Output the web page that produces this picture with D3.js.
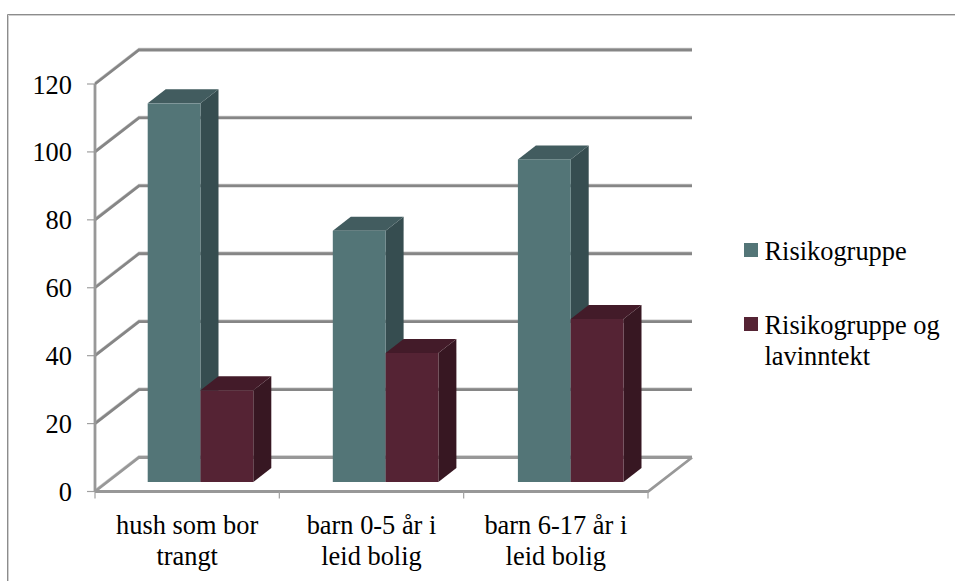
<!DOCTYPE html>
<html><head><meta charset="utf-8">
<script src="https://cdn.jsdelivr.net/npm/d3@7"></script>
<style>html,body{margin:0;padding:0;background:#fff}svg{display:block}text{font-family:"Liberation Serif",serif;fill:#000}</style>
</head><body><svg id="c" width="955" height="581"></svg>
<script>
const categories=[["hush som bor","trangt"],["barn 0-5 år i","leid bolig"],["barn 6-17 år i","leid bolig"]];
const seriesNames=[["Risikogruppe"],["Risikogruppe og","lavinntekt"]];
const risikogruppe=[111.5,74,95];
const lavinntekt=[27,38,48];
const tickValues=[0,20,40,60,80,100,120];
const frontColors=["#537577","#552334"];
const sideColors=["#364d50","#371722"];
const topColors=["#425c5f","#431b29"];
const fs=26.4;

const svg=d3.select("#c");
svg.append("path").attr("d","M8.5,581V15.5H955").attr("fill","none").attr("stroke","#d0d0d0");
svg.append("path").attr("d","M7.5,581V14.5H955").attr("fill","none").attr("stroke","#8c8c8c");

const depth={dx:44,dy:-34}, barDepth={dx:18,dy:-14};
const y=d3.scaleLinear().domain([0,120]).range([491.5,84]);
const x0=d3.scaleBand().domain([0,1,2]).range([95,648]);
const barX=d3.scaleBand().domain([0,1,2]).range([94.7,650]);
const x1=d3.scaleBand().domain([0,1]).range([0,105.6]);
const gc="#868686", ac="#989898";
const line=(pts,c=gc)=>{
  const s=pts.map(p=>p.join(",")).join(" ");
  svg.append("polyline").attr("points",pts.map(p=>[p[0],p[1]-1.2].join(",")).join(" ")).attr("fill","none").attr("stroke","#c9c9c9").attr("stroke-width",2);
  svg.append("polyline").attr("points",s).attr("fill","none").attr("stroke",c).attr("stroke-width",2.8);
};
const R=x0.range()[1];

tickValues.forEach(t=>{
  const yy=y(t);
  line([[95,yy],[95+depth.dx,yy+depth.dy],[R+depth.dx,yy+depth.dy]],t===0?ac:gc);
  svg.append("line").attr("x1",87).attr("x2",95).attr("y1",yy).attr("y2",yy).attr("stroke","#a0a0a0").attr("stroke-width",1.2);
  svg.append("text").attr("x",72).attr("y",yy+9.5).attr("text-anchor","end").attr("font-size",fs).text(t);
});
svg.append("line").attr("x1",95).attr("x2",95).attr("y1",y(0)).attr("y2",y(120)).attr("stroke",ac).attr("stroke-width",2.8);
svg.append("polyline").attr("points",[[95,y(0)],[R,y(0)],[R+depth.dx,y(0)+depth.dy]].map(p=>p.join(",")).join(" ")).attr("fill","none").attr("stroke",ac).attr("stroke-width",2.8);
[0,1,2,3].forEach(i=>{
  const xx=i<3?x0(i):R;
  svg.append("line").attr("x1",xx).attr("x2",xx).attr("y1",y(0)).attr("y2",y(0)+7).attr("stroke","#a0a0a0").attr("stroke-width",1.2);
});

const base=y(0)-9.5;
const h=v=>y(0)-y(v);
const pad=53;
[risikogruppe,lavinntekt].forEach((vals,s)=>{
  vals.forEach((v,i)=>{
    const xl=barX(i)+pad+x1(s), xr=xl+x1.bandwidth(), yt=base-h(v);
    const d=barDepth;
    svg.append("path").attr("d",`M${xr},${yt}L${xr+d.dx},${yt+d.dy}V${base+d.dy}L${xr},${base}Z`).attr("fill",sideColors[s]);
    svg.append("path").attr("d",`M${xl},${yt}L${xl+d.dx},${yt+d.dy}H${xr+d.dx}L${xr},${yt}Z`).attr("fill",topColors[s]);
    svg.append("rect").attr("x",xl).attr("y",yt).attr("width",xr-xl).attr("height",base-yt).attr("fill",frontColors[s]);
  });
});

categories.forEach((lines,i)=>{
  lines.forEach((l,k)=>{
    svg.append("text").attr("x",x0(i)+x0.bandwidth()/2).attr("y",533.5+k*31).attr("text-anchor","middle").attr("font-size",fs).text(l);
  });
});

const legY=[250,324];
seriesNames.forEach((lines,s)=>{
  svg.append("rect").attr("x",744).attr("y",legY[s]-7).attr("width",14).attr("height",14).attr("fill",frontColors[s]);
  lines.forEach((l,k)=>{
    svg.append("text").attr("x",764.5).attr("y",legY[s]+10+k*31).attr("font-size",fs).text(l);
  });
});
</script></body></html>
